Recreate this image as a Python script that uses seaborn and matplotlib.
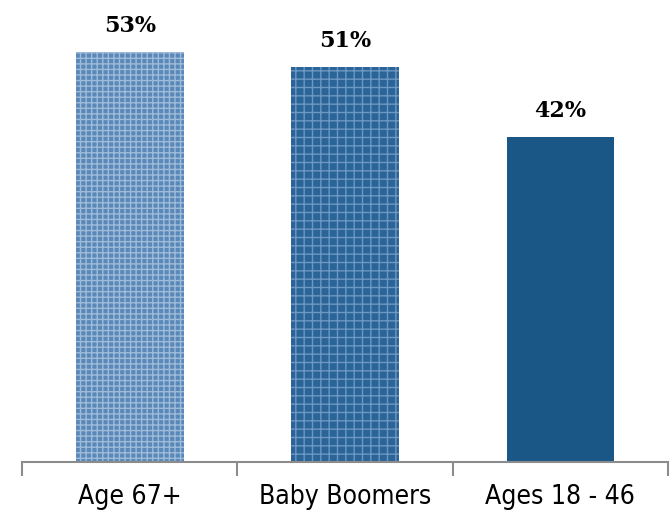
import matplotlib.pyplot as plt
import pandas as pd
import seaborn as sns

# data
groups = ["Age 67+", "Baby Boomers", "Ages 18 - 46"]
shares = [53, 51, 42]
labels = ["53%", "51%", "42%"]

bar_colors = ["#5a88b8", "#2b6497", "#1a5686"]
hatch_colors = ["#9ebbd9", "#6d98c3", "#1a5686"]
hatches = ["+++", "++", ""]

df = pd.DataFrame({"group": groups, "share": shares})

sns.set_style("white")
fig = plt.figure(figsize=(6.7, 5.21), dpi=100)
ax = fig.add_axes([22 / 670, 59 / 521, 646 / 670, 462 / 521])

sns.barplot(data=df, x="group", y="share", hue="group", palette=bar_colors,
            width=0.5, legend=False, ax=ax, saturation=1)

for p, hc, h in zip(ax.patches, hatch_colors, hatches):
    p.set_hatch(h)
    p.set_edgecolor(hc)
    p.set_linewidth(0)

for i, (v, lab) in enumerate(zip(shares, labels)):
    ax.annotate(lab, (i, v), xytext=(0, 11), textcoords="offset points",
                ha="center", va="bottom", fontsize=16, color="black",
                fontweight="bold", family=["DejaVu Serif"])

ax.set_xlim(-0.5, 2.5)
ax.set_ylim(0, 59.7)
ax.set_xlabel("")
ax.set_ylabel("")
ax.set_yticks([])
for s in ["top", "right", "left"]:
    ax.spines[s].set_visible(False)
ax.spines["bottom"].set_color("#8c8c8c")
ax.spines["bottom"].set_linewidth(1.5)

ax.set_xticks([-0.5, 0.5, 1.5, 2.5], minor=False)
ax.set_xticklabels([])
ax.tick_params(axis="x", which="major", bottom=True, length=10, width=1.5,
               color="#8c8c8c")
ax.set_xticks([0, 1, 2], minor=True)
ax.set_xticklabels(groups, minor=True, fontsize=19, fontstretch="condensed",
                   family=["DejaVu Sans"])
ax.tick_params(axis="x", which="minor", bottom=True, length=0, pad=16,
               colors="black")

fig.savefig("out.png", dpi=100)
